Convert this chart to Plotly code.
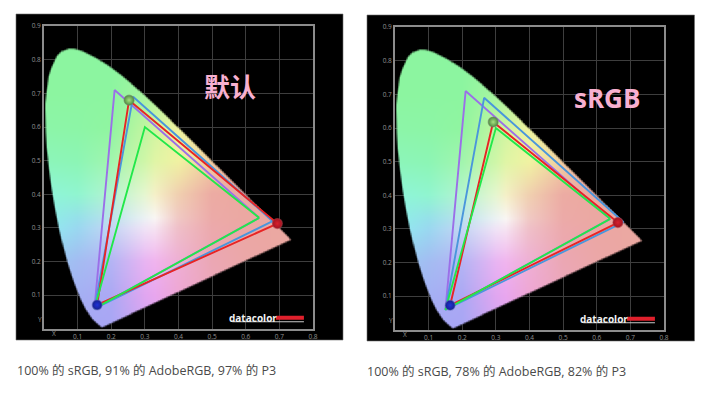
import numpy as np
import plotly.graph_objects as go

# CIE 1931 spectral locus
LOCUS_X = [0.1741, 0.1714, 0.1644, 0.1566, 0.1440, 0.1241, 0.1096, 0.0913, 0.0800, 0.0687, 0.0570, 0.0454,
           0.0340, 0.0235, 0.0150, 0.0082, 0.0055, 0.0039, 0.0040, 0.0065, 0.0139, 0.0222, 0.0389, 0.0524,
           0.0743, 0.0899, 0.1142, 0.1547, 0.1929, 0.2296,
           0.2658, 0.3016, 0.3373, 0.3731, 0.4087, 0.4441, 0.4788, 0.5125, 0.5448, 0.5752,
           0.6029, 0.6270, 0.6658, 0.6915, 0.7079, 0.7260, 0.7347]
LOCUS_Y = [0.0050, 0.0051, 0.0109, 0.0177, 0.0297, 0.0578, 0.0868, 0.1327, 0.1650, 0.2007, 0.2460, 0.2950,
           0.3530, 0.4127, 0.4760, 0.5384, 0.5850, 0.6548, 0.6700, 0.6950, 0.7502, 0.7760, 0.8120, 0.8254,
           0.8338, 0.8334, 0.8262, 0.8059, 0.7816, 0.7543,
           0.7243, 0.6923, 0.6589, 0.6245, 0.5896, 0.5547, 0.5202, 0.4866, 0.4544, 0.4242,
           0.3965, 0.3725, 0.3340, 0.3083, 0.2920, 0.2740, 0.2653]

# colours picked from the gamut fill
COLOR_X = [0.0, 0.1, 0.2, 0.3, 0.33, 0.4, 0.5, 0.6, 0.75]
COLOR_Y = [0.0, 0.1, 0.2, 0.3, 0.33, 0.4, 0.5, 0.6, 0.7, 0.85]
COLOR_ROWS = [
    ["#A6A6F5", "#A6A6F5", "#A8A6F5", "#CFA5F2", "#DCA5F1", "#E8A6E0", "#EBA6C4", "#EBA7B0", "#EBA8A0"],
    ["#A2B4F2", "#A4B0F3", "#ACA8F3", "#E0A6F0", "#E8A6EE", "#EEA6D4", "#ECA6BC", "#EBA7AC", "#EBA8A0"],
    ["#98CCF2", "#A3BCF2", "#B4B4F4", "#E8B4F2", "#F0B4EE", "#EEAFD4", "#EBA7B4", "#EBA7A8", "#EBA8A0"],
    ["#8FEDEF", "#9AD8F0", "#C4D6F4", "#F0E4F6", "#F6E4F2", "#EFBFC8", "#ECA9AC", "#EBA7A4", "#EBA8A0"],
    ["#8EF0E8", "#96E0EA", "#BCE2EC", "#ECF2F4", "#F9F6F4", "#F0C8C4", "#ECAAA8", "#EBA8A2", "#EBA8A0"],
    ["#8EF5DA", "#90F5D0", "#B4F4D0", "#E6F6D0", "#F5F0C8", "#F0CFB0", "#ECABA3", "#EBA8A0", "#EBA8A0"],
    ["#8CF5BA", "#8CF5B5", "#A2F5AE", "#CFF6A8", "#E0F5A6", "#F0F2A2", "#F2CCA0", "#EDB0A0", "#EBA8A0"],
    ["#8CF5A8", "#8CF5A6", "#90F5A0", "#C0F5A0", "#D0F5A0", "#EFF2A0", "#F2E0A0", "#EFC0A0", "#EBA8A0"],
    ["#8CF5A0", "#8CF5A0", "#8CF5A0", "#A8F5A0", "#B4F5A0", "#D8F4A0", "#EFE8A0", "#EFC8A0", "#EBA8A0"],
    ["#8CF5A0", "#8CF5A0", "#8CF5A0", "#8CF5A0", "#8CF5A0", "#A0F5A0", "#C0F0A0", "#E0D0A0", "#EBA8A0"],
]

# reference gamuts, corners as (red, green, blue)
SRGB_X = [0.64, 0.30, 0.15]
SRGB_Y = [0.33, 0.60, 0.06]
P3_X = [0.68, 0.265, 0.15]
P3_Y = [0.32, 0.69, 0.06]
ADOBE_X = [0.64, 0.21, 0.15]
ADOBE_Y = [0.33, 0.71, 0.06]

# measured display gamut for each panel
DEFAULT_X = [0.694, 0.253, 0.158]
DEFAULT_Y = [0.313, 0.680, 0.071]
SRGB_MODE_X = [0.663, 0.292, 0.164]
SRGB_MODE_Y = [0.319, 0.618, 0.073]

TICK_X = [0.1, 0.2, 0.3, 0.4, 0.5, 0.6, 0.7, 0.8]
TICK_Y = [0.1, 0.2, 0.3, 0.4, 0.5, 0.6, 0.7, 0.8, 0.9]

CAPTION_LEFT = "100% 的 sRGB, 91% 的 AdobeRGB, 97% 的 P3"
CAPTION_RIGHT = "100% 的 sRGB, 78% 的 AdobeRGB, 82% 的 P3"

W, H = 720, 412
STEP = 0.002
FEATHER = 0.006
FONT = "Open Sans, Noto Sans CJK SC, sans-serif"


def gamut_image():
    xs = (np.arange(400) + 0.5) * STEP
    ys = (np.arange(450) + 0.5) * STEP
    gx, gy = np.meshgrid(xs, ys)

    # even-odd test against the closed locus, plus distance to the edge for a soft rim
    px, py = np.array(LOCUS_X), np.array(LOCUS_Y)
    qx, qy = np.roll(px, -1), np.roll(py, -1)
    inside = np.zeros(gx.shape, dtype=bool)
    dist = np.full(gx.shape, 9.0)
    for x1, y1, x2, y2 in zip(px, py, qx, qy):
        if y1 != y2:
            hit = ((y1 > gy) != (y2 > gy)) & (gx < (x2 - x1) * (gy - y1) / (y2 - y1) + x1)
            inside ^= hit
        ex, ey = x2 - x1, y2 - y1
        t = np.clip(((gx - x1) * ex + (gy - y1) * ey) / (ex * ex + ey * ey), 0, 1)
        dist = np.minimum(dist, np.hypot(gx - x1 - t * ex, gy - y1 - t * ey))
    signed = np.where(inside, dist, -dist)
    alpha = np.clip(0.5 + signed / FEATHER, 0, 1)

    table = np.array([[[int(c[i:i + 2], 16) for i in (1, 3, 5)] for c in row] for row in COLOR_ROWS], dtype=float)
    fx = np.interp(gx, COLOR_X, np.arange(len(COLOR_X)))
    fy = np.interp(gy, COLOR_Y, np.arange(len(COLOR_Y)))
    ix = np.minimum(fx.astype(int), len(COLOR_X) - 2)
    iy = np.minimum(fy.astype(int), len(COLOR_Y) - 2)
    tx = (fx - ix)[..., None]
    ty = (fy - iy)[..., None]
    rgb = (table[iy, ix] * (1 - tx) + table[iy, ix + 1] * tx) * (1 - ty) \
        + (table[iy + 1, ix] * (1 - tx) + table[iy + 1, ix + 1] * tx) * ty

    img = np.zeros(gx.shape + (4,), dtype=np.uint8)
    img[..., :3] = np.round(rgb)
    img[..., 3] = np.round(alpha * 255)
    return img.tolist()


def closed(values):
    return values + values[:1]


fig = go.Figure()
image = gamut_image()

panels = [
    ("x", "y", DEFAULT_X, DEFAULT_Y),
    ("x2", "y2", SRGB_MODE_X, SRGB_MODE_Y),
]
# centre and rim of the little glass balls, in green, red, blue order
ball_colors = ["#A6E080", "#D8202C", "#1E30D8"]
ball_rims = ["#4E8E40", "#A01422", "#16208C"]
ball_halos = ["rgba(110,130,100,0.55)", "rgba(170,60,70,0.55)", "rgba(100,110,190,0.55)"]

for xa, ya, mx, my in panels:
    fig.add_trace(go.Image(z=image, colormodel="rgba256", x0=STEP / 2, y0=STEP / 2, dx=STEP, dy=STEP,
                           zsmooth="fast", xaxis=xa, yaxis=ya, hoverinfo="skip"))

    for gx, gy, color in [(ADOBE_X, ADOBE_Y, "#9B6FE8"), (P3_X, P3_Y, "#4A96DC"), (mx, my, "#E82424"), (SRGB_X, SRGB_Y, "#22E84A")]:
        fig.add_trace(go.Scatter(x=closed(gx), y=closed(gy), mode="lines", xaxis=xa, yaxis=ya,
                                 line=dict(color=color, width=1.9), showlegend=False, hoverinfo="skip"))

    # measured primaries, x/y lists run red, green, blue
    order = [1, 0, 2]
    fig.add_trace(go.Scatter(x=mx, y=my, mode="markers", xaxis=xa, yaxis=ya, showlegend=False, hoverinfo="skip",
                             marker=dict(size=10, color=[ball_rims[i] for i in order],
                                         gradient=dict(type="radial", color=[ball_colors[i] for i in order]),
                                         line=dict(width=1.2, color=[ball_halos[i] for i in order]))))

shapes = []
annotations = []
for x0, x1, y0, y1, xa, ya in [(16, 343, 14, 340, "x", "y"), (367, 694.5, 15, 341, "x2", "y2")]:
    # black plate of the screenshot
    shapes.append(dict(type="rect", xref="paper", yref="paper", layer="below",
                       x0=x0 / W, x1=x1 / W, y0=1 - y1 / H, y1=1 - y0 / H,
                       fillcolor="#000000", line=dict(color="#6E6E6E", width=0.6)))
    # datacolor logo
    shapes.append(dict(type="rect", xref=xa, yref=ya, x0=0.69, x1=0.773, y0=0.027, y1=0.039,
                       fillcolor="#E0202C", line=dict(width=0)))
    shapes.append(dict(type="line", xref=xa, yref=ya, x0=0.56, x1=0.773, y0=0.021, y1=0.021,
                       line=dict(color="#C8C8C8", width=1.2)))
    annotations.append(dict(text="<b>datacolor</b>", xref=xa, yref=ya, x=0.623, y=0.033, showarrow=False,
                            xanchor="center", yanchor="middle",
                            font=dict(family="Open Sans, sans-serif", size=10, color="#F2F2F2")))
    annotations.append(dict(text="X", xref=xa, yref="paper", x=0.03, y=1 - (y1 - 6.5) / H, showarrow=False,
                            xanchor="center", yanchor="middle", font=dict(family=FONT, size=6.5, color="#909090")))
    annotations.append(dict(text="Y", xref="paper", yref=ya, x=(x0 + 24) / W, y=0.027, showarrow=False,
                            xanchor="center", yanchor="middle", font=dict(family=FONT, size=6.5, color="#909090")))

annotations += [
    dict(text="<b>默认</b>", xref="paper", yref="paper", x=230 / W, y=1 - 85 / H, showarrow=False,
         xanchor="center", yanchor="middle", font=dict(family="Noto Sans CJK SC", size=26, color="#F8B0D0")),
    dict(text="<b>sRGB</b>", xref="paper", yref="paper", x=607 / W, y=1 - 98 / H, showarrow=False,
         xanchor="center", yanchor="middle", font=dict(family="Open Sans", size=26, color="#F8B0D0")),
    dict(text=CAPTION_LEFT, xref="paper", yref="paper", x=15 / W, y=1 - 370 / H, xanchor="left", yanchor="middle",
         showarrow=False, font=dict(family=FONT, size=12.5, color="#4A4A4A")),
    dict(text=CAPTION_RIGHT, xref="paper", yref="paper", x=365 / W, y=1 - 371 / H, xanchor="left", yanchor="middle",
         showarrow=False, font=dict(family=FONT, size=12.5, color="#4A4A4A")),
]

axis_style = dict(automargin=False, showgrid=True, gridcolor="#3E3E3E", gridwidth=1, zeroline=False, showline=True, mirror=True,
                  linecolor="#8C8C8C", linewidth=1.8, ticks="", tickfont=dict(family=FONT, size=6.5, color="#909090"))

fig.update_layout(
    width=W, height=H, margin=dict(l=0, r=0, t=0, b=0, autoexpand=False), showlegend=False,
    paper_bgcolor="#FFFFFF", plot_bgcolor="rgba(0,0,0,0)",
    shapes=shapes, annotations=annotations,
    xaxis=dict(domain=[44 / W, 313 / W], anchor="y", range=[0, 0.8], tickvals=TICK_X, tickformat=".1f", **axis_style),
    yaxis=dict(domain=[1 - 329 / H, 1 - 26 / H], anchor="x", range=[0, 0.9], tickvals=TICK_Y, tickformat=".1f", **axis_style),
    xaxis2=dict(domain=[395 / W, 664 / W], anchor="y2", range=[0, 0.8], tickvals=TICK_X, tickformat=".1f", **axis_style),
    yaxis2=dict(domain=[1 - 330 / H, 1 - 27 / H], anchor="x2", range=[0, 0.9], tickvals=TICK_Y, tickformat=".1f", **axis_style),
)

fig.write_html("out.html", config={"displayModeBar": False},
               post_script="document.body.style.margin = '0'; document.documentElement.style.overflow = 'hidden';")
